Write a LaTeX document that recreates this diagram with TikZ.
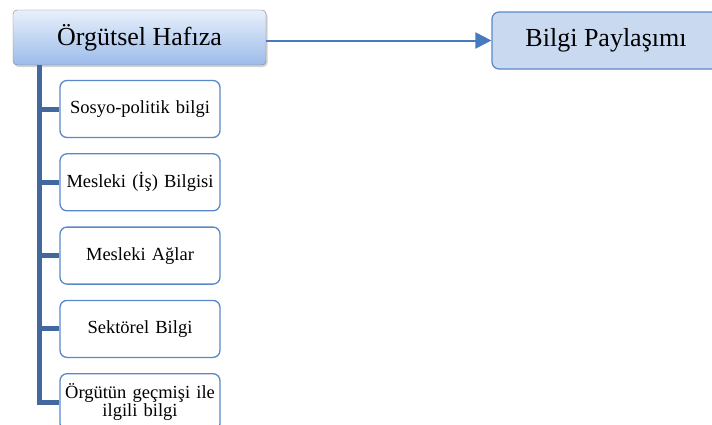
\documentclass[tikz,border=0pt]{standalone}
\usepackage{fontspec}
\setmainfont{Liberation Serif}
\usepackage{xcolor}
\usepackage{tikz}
\usetikzlibrary{arrows.meta, positioning, shadows}

\definecolor{hafizaust}{RGB}{232,240,251}
\definecolor{hafizaalt}{RGB}{156,187,234}
\definecolor{kenargri}{RGB}{128,128,128}
\definecolor{kutumavi}{RGB}{88,136,200}
\definecolor{paylasimdolgu}{RGB}{200,217,240}
\definecolor{okmavi}{RGB}{70,122,190}
\definecolor{govde}{RGB}{66,104,158}

\begin{document}
\begin{tikzpicture}[
        x=1pt, y=-1pt,
        >=Latex,
        every node/.style={
            align=center,
            inner sep=2pt
        },
        anakutu/.style={
            draw=kenargri,
            rounded corners=4pt,
            top color=hafizaust,
            bottom color=hafizaalt,
            drop shadow={shadow xshift=1.5pt, shadow yshift=-2pt, opacity=0.35},
            minimum width=253pt,
            minimum height=55pt,
            font=\fontsize{26}{28}\selectfont
        },
        hedef/.style={
            draw=kutumavi,
            line width=1.2pt,
            rounded corners=7pt,
            fill=paylasimdolgu,
            minimum width=228pt,
            minimum height=57pt,
            font=\fontsize{26}{28}\selectfont
        },
        altkutu/.style={
            draw=kutumavi,
            line width=1.3pt,
            rounded corners=7pt,
            fill=white,
            text width=156pt,
            minimum height=57pt,
            font=\fontsize{18.5}{18.5}\selectfont
        },
        ok/.style={
            -{Triangle[length=16pt, width=16pt]},
            draw=okmavi,
            line width=2pt
        },
        dal/.style={
            draw=govde,
            line width=5pt
        }
    ]

    \useasboundingbox (0,0) rectangle (712,424);

    \node[anakutu] (hafiza) at (139.5,37.5) {Örgütsel Hafıza};

    \node[hedef] (paylasim) at (606,40.5) {Bilgi Paylaşımı};

    \node[altkutu] (sosyo) at (140,109) {Sosyo-politik bilgi};

    \node[altkutu, below=15pt of sosyo] (mesleki) {Mesleki (İş) Bilgisi};

    \node[altkutu, below=15pt of mesleki] (aglar) {Mesleki Ağlar};

    \node[altkutu, below=15pt of aglar] (sektorel) {Sektörel Bilgi};

    \node[altkutu, below=15pt of sektorel] (gecmis) {Örgütün geçmişi ile\\ilgili bilgi};

    \coordinate (govde) at ([xshift=27pt]hafiza.south west);

    \draw[ok] (hafiza.east |- paylasim.west) -- (paylasim.west);

    \draw[dal] (govde) |- (gecmis.west);
    \draw[dal] (sosyo.west) -- (sosyo.west -| govde);
    \draw[dal] (mesleki.west) -- (mesleki.west -| govde);
    \draw[dal] (aglar.west) -- (aglar.west -| govde);
    \draw[dal] (sektorel.west) -- (sektorel.west -| govde);

\end{tikzpicture}
\end{document}
